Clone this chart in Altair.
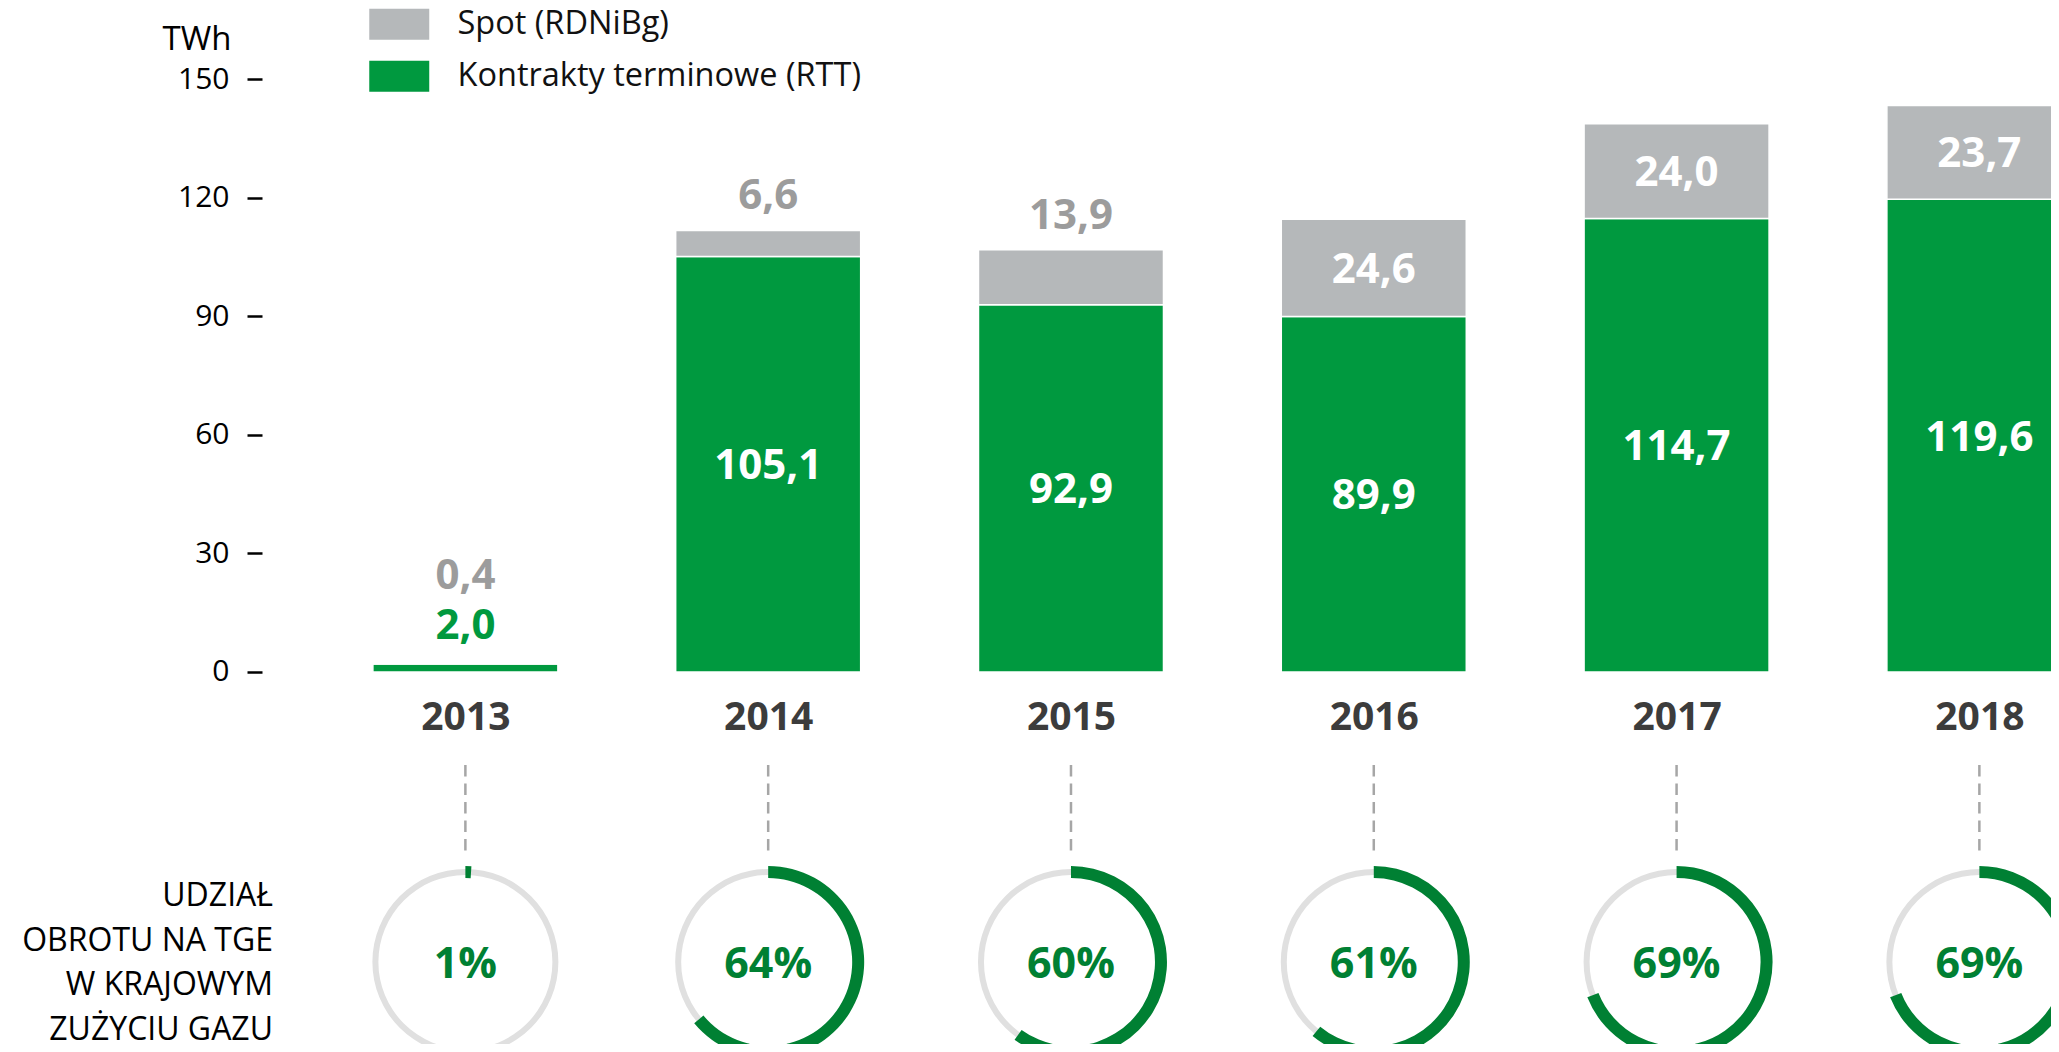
import altair as alt
import pandas as pd

# ---------------- data ----------------
years = [2013, 2014, 2015, 2016, 2017, 2018]
rtt = [2.0, 105.1, 92.9, 89.9, 114.7, 119.6]      # Kontrakty terminowe (RTT), TWh
spot = [0.4, 6.6, 13.9, 24.6, 24.0, 23.7]         # Spot (RDNiBg), TWh
share = [1, 64, 60, 61, 69, 69]                   # udział obrotu na TGE w krajowym zużyciu gazu, %
series_names = ["Spot (RDNiBg)", "Kontrakty terminowe (RTT)"]
y_ticks = [0, 30, 60, 90, 120, 150]
side_label = ["UDZIAŁ", "OBROTU NA TGE", "W KRAJOWYM", "ZUŻYCIU GAZU"]

# ---------------- styles ----------------
GREEN = "#00993f"
GRAY = "#b5b8ba"
GRAY_TXT = "#9c9c9c"
ARC_GREEN = "#008033"
RING_GRAY = "#e0e0e0"
YEAR_TXT = "#3c3c3c"
FONT = "Open Sans"


def fmt(v):
    return f"{v:.1f}".replace(".", ",")


rows = []
for yr, r, s in zip(years, rtt, spot):
    rows.append(dict(year=yr, series=series_names[1], lo=0.0, hi=r, val=r, lab=fmt(r), kind="rtt"))
    rows.append(dict(year=yr, series=series_names[0], lo=r, hi=r + s, val=s, lab=fmt(s), kind="spot"))
bars_df = pd.DataFrame(rows)
bars_df["mid"] = (bars_df["lo"] + bars_df["hi"]) / 2
bars_df["total"] = bars_df.groupby("year")["hi"].transform("max")

inside = bars_df[bars_df["val"] >= 20].copy()
outside = bars_df[bars_df["val"] < 20].copy()
outside["rank"] = outside.groupby("year").cumcount()
outside["tcolor"] = outside["kind"].map({"rtt": GREEN, "spot": GRAY_TXT})
out1_spot = outside[(outside["rank"] == 0) & (outside["kind"] == "spot")]
out1_rtt = outside[(outside["rank"] == 0) & (outside["kind"] == "rtt")]
out2 = outside[outside["rank"] == 1]

arc_df = pd.DataFrame({
    "year": years,
    "t0": [0.0] * len(years),
    "t1": [p / 100 for p in share],
    "full": [1.0] * len(years),
    "pct": [f"{p}%" for p in share],
})

# ---------------- scales / axes ----------------
X0, X1 = 2012.34483, 2018.22003
x_scale = alt.Scale(domain=[X0, X1], nice=False, zero=False)
y_scale = alt.Scale(domain=[-94.10, 167.96], nice=False, zero=False)
theta_scale = alt.Scale(domain=[0, 1], range=[0, 6.283185307179586])

x_axis = alt.Axis(values=years, format="d", labelFontSize=39, labelFontWeight="bold",
                  labelColor=YEAR_TXT, domain=False, ticks=False, grid=False,
                  labelPadding=0, labelBaseline="middle", offset=-327,
                  labelFlush=False, labelOverlap=False, title=None)
y_axis = alt.Axis(values=y_ticks, labelFontSize=30, labelColor="#000000", labelPadding=18,
                  tickSize=15, tickWidth=2.5, tickColor="#000000", domain=False, grid=False,
                  title="TWh", titleAngle=0, titleAlign="right", titleBaseline="middle",
                  titleX=-31, titleY=31, titleFontSize=33, titleFontWeight="normal",
                  titleColor="#000000")


def X():
    return alt.X("year:Q", scale=x_scale, axis=x_axis)


def Y(field):
    return alt.Y(field, scale=y_scale, axis=y_axis)


legend = alt.Legend(orient="none", legendX=121, legendY=0, title=None,
                    symbolType="M-1.935,-1H1.935V1H-1.935Z", symbolSize=961,
                    symbolStrokeWidth=0, labelFontSize=32.5, labelColor="#111111",
                    labelOffset=42, labelLimit=0, rowPadding=19, padding=0)

bars = alt.Chart(bars_df).mark_bar(size=185, stroke="white", strokeWidth=1.5).encode(
    x=X(),
    y=Y("lo:Q"),
    y2="hi:Q",
    color=alt.Color("series:N", scale=alt.Scale(domain=series_names, range=[GRAY, GREEN]),
                    legend=legend),
)

lab_inside = alt.Chart(inside).mark_text(fontSize=42, fontWeight="bold", color="white",
                                         baseline="middle", dy=2).encode(
    x=X(), y=Y("mid:Q"), text="lab:N",
)


def above(df, dy):
    return alt.Chart(df).mark_text(fontSize=42, fontWeight="bold", baseline="middle", dy=dy).encode(
        x=X(), y=Y("total:Q"), text="lab:N",
        color=alt.Color("tcolor:N", scale=None),
    )


lab_out1s = above(out1_spot, -34)
lab_out1r = above(out1_rtt, -37)
lab_out2 = above(out2, -87)

rules = alt.Chart(arc_df).mark_rule(strokeDash=[11.5, 7], color="#a6a6a6", strokeWidth=2.5).encode(
    x=X(),
    y=alt.value(757),
    y2=alt.value(844),
)

# one ring + one progress arc per year
arc_layers = []
for i in range(len(years)):
    one = arc_df.iloc[[i]]
    arc_layers.append(
        alt.Chart(one).mark_arc(radius=93, radius2=87, color=RING_GRAY).encode(
            x=X(),
            y=alt.value(954),
            theta=alt.Theta("t0:Q", scale=theta_scale, stack=None),
            theta2="full:Q",
        )
    )
    arc_layers.append(
        alt.Chart(one).mark_arc(radius=96, radius2=84, color=ARC_GREEN).encode(
            x=X(),
            y=alt.value(954),
            theta=alt.Theta("t0:Q", scale=theta_scale, stack=None),
            theta2="t1:Q",
        )
    )

pct = alt.Chart(arc_df).mark_text(fontSize=43, fontWeight="bold", color=ARC_GREEN,
                                  baseline="middle").encode(
    x=X(),
    y=alt.value(957),
    text="pct:N",
)

side = alt.Chart(pd.DataFrame({"k": [0]})).mark_text(
    text=side_label, align="right", baseline="middle", lineHeight=44.5,
    fontSize=32, color="#000000",
).encode(x=alt.value(11), y=alt.value(888))

chart = alt.layer(
    bars, lab_inside, lab_out1s, lab_out1r, lab_out2, rules, *arc_layers, pct, side
).properties(
    width=1789, height=1036,
    autosize=alt.AutoSizeParams(type="none"),
    padding={"left": 254, "top": 0, "right": 0, "bottom": 0},
).configure(font=FONT).configure_view(strokeWidth=0)

chart.save("out.html", embed_options={"renderer": "svg", "actions": False})
